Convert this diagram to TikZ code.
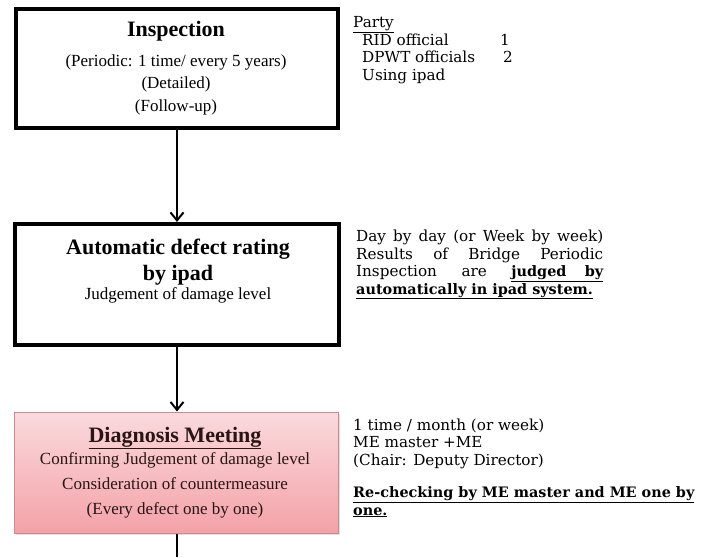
\documentclass[tikz,border=0pt]{standalone}
\usepackage{fontspec}
\setmainfont{Liberation Serif}
\newfontfamily\notefont{DejaVu Serif}
\usetikzlibrary{arrows.meta,shadows}

\definecolor{meetborder}{HTML}{D08890}
\definecolor{meettop}{HTML}{FADADD}
\definecolor{meetbottom}{HTML}{F3A2A8}
\definecolor{meettext}{HTML}{2A1414}

\newcommand{\notebold}[1]{{\fontsize{14.4}{17.5}\selectfont\bfseries #1}}

\tikzset{
  stagebox/.style={draw=black, line width=4pt, fill=white,
    minimum width=322pt, minimum height=119pt, inner sep=0pt},
  meetbox/.style={draw=meetborder, line width=1pt,
    top color=meettop, bottom color=meetbottom,
    minimum width=324pt, minimum height=121pt, inner sep=0pt,
    drop shadow={shadow xshift=1.5pt, shadow yshift=-1.5pt, opacity=0.25}},
  titletext/.style={anchor=base, inner sep=0pt, font=\fontsize{22}{26}\selectfont\bfseries},
  subtext/.style={anchor=base, inner sep=0pt, font=\fontsize{17}{20}\selectfont},
  % multi-line notes are placed by the baseline of their last line
  notetext/.style={anchor=base west, inner sep=0pt, align=left,
    font=\notefont\fontsize{15.2}{17.5}\selectfont},
  flow/.style={line width=2pt, -{Straight Barb[length=8pt,width=13pt,line width=2pt]}},
}

\begin{document}
\begin{tikzpicture}[x=1pt, y=-1pt]
  \useasboundingbox (0,0) rectangle (703,557);

  % stage boxes
  \node[stagebox] (inspect) at (177,68.5) {};
  \node[stagebox, minimum width=324pt, minimum height=121pt] (rating) at (177,284.5) {};
  \node[meetbox] (meeting) at (176,472.5) {};
  \coordinate (exit) at (177,557);

  % inspection texts
  \node[titletext] (t1) at (176,36) {Inspection};
  \node[subtext] (t1a) at (176,66.5) {(Periodic: 1 time/ every 5 years)};
  \node[subtext] (t1b) at (176,88) {(Detailed)};
  \node[subtext] (t1c) at (176,111) {(Follow-up)};

  % rating texts
  \node[titletext] (t2) at (178,254) {Automatic defect rating};
  \node[titletext] (t2a) at (178,280) {by ipad};
  \node[subtext] (t2b) at (178,299) {Judgement of damage level};

  % meeting texts
  \node[titletext, text=meettext] (t3) at (175,442) {\underline{Diagnosis Meeting}};
  \node[subtext, text=meettext] (t3a) at (175,464.5) {Confirming Judgement of damage level};
  \node[subtext, text=meettext] (t3b) at (175,489) {Consideration of countermeasure};
  \node[subtext, text=meettext] (t3c) at (175,514) {(Every defect one by one)};

  % connectors
  \draw[flow] (inspect.south -| 177,0) -- (rating.north -| 177,0);
  \draw[flow] (rating.south -| 177,0) -- (meeting.north -| 177,0);
  \draw[line width=2pt] (meeting.south -| 177,0) -- (exit);

  % side notes
  \node[notetext] (n1) at (353,80) {\underline{Party}\\
    \hspace*{9pt}\makebox[138pt][l]{RID official}1\\
    \hspace*{9pt}\makebox[141pt][l]{DPWT officials}2\\
    \hspace*{9pt}Using ipad};

  \node[notetext] (n2) at (356,294) {\hbox to 247pt{Day\hfill by\hfill day\hfill (or\hfill Week\hfill by\hfill week)}\\
    \hbox to 247pt{Results\hfill of\hfill Bridge\hfill Periodic}\\
    \hbox to 247pt{Inspection\hfill are\hfill\underline{\notebold{judged}\hspace{1.2em}\notebold{by}}}\\
    \underline{\notebold{automatically in ipad system.}}};

  \node[notetext] (n3) at (353,515) {1 time / month (or week)\\
    ME master +ME\\
    (Chair: Deputy Director)\\[15pt]
    \underline{\notebold{Re-checking by ME master and ME one by}}\\
    \underline{\notebold{one.}}};
\end{tikzpicture}
\end{document}
